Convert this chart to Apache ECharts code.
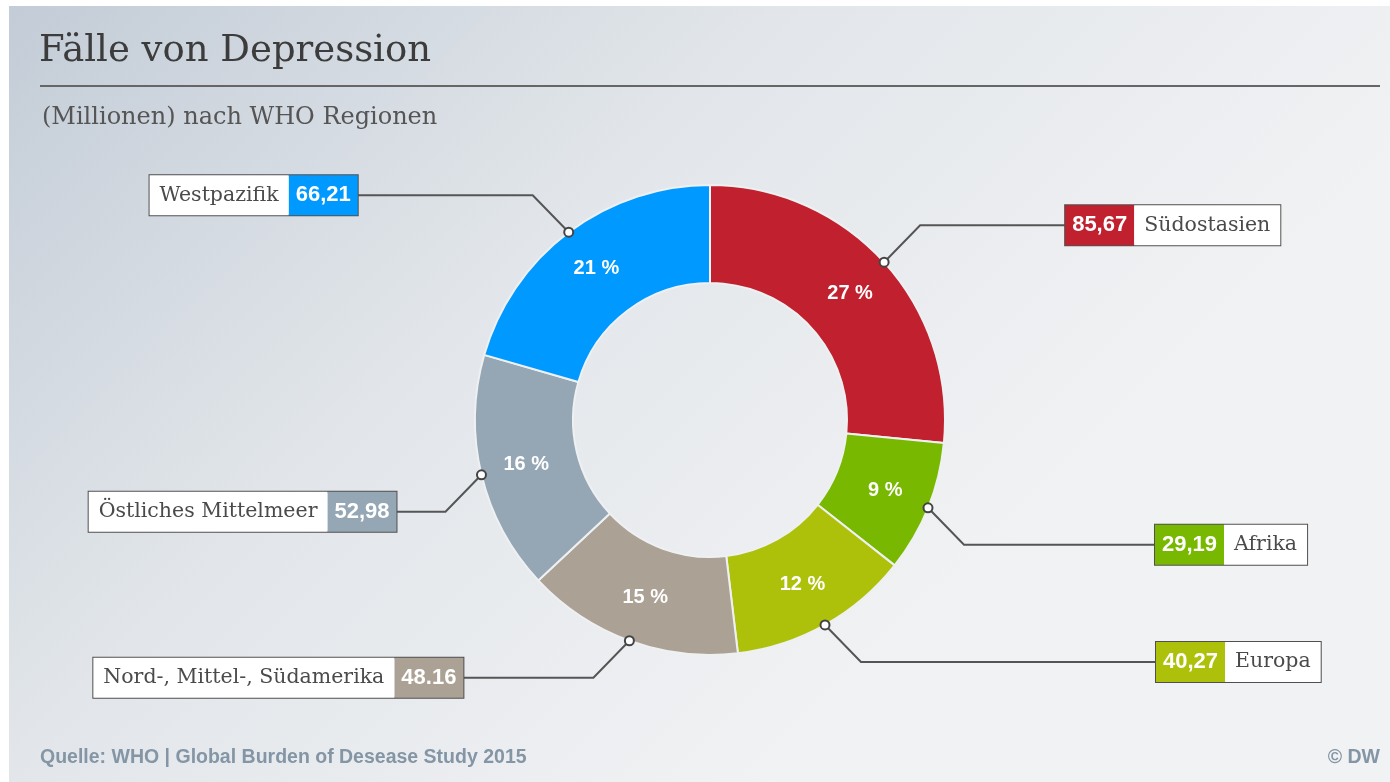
<!DOCTYPE html>
<html><head><meta charset="utf-8">
<script src="https://cdn.jsdelivr.net/npm/echarts@6/dist/echarts.min.js"></script>
<style>html,body{margin:0;padding:0;background:#fff;}#c{width:1390px;height:782px;}</style>
</head><body><div id="c"></div>
<script>
const regions = ['Südostasien', 'Afrika', 'Europa', 'Nord-, Mittel-, Südamerika', 'Östliches Mittelmeer', 'Westpazifik'];
const values = [85.67, 29.19, 40.27, 48.16, 52.98, 66.21];
const valueLabels = ['85,67', '29,19', '40,27', '48.16', '52,98', '66,21'];
const colors = ['#c1202f', '#78b800', '#adc10b', '#aba194', '#95a7b5', '#0099ff'];
const leaderLen = [145, 191, 295, 130, 49, 175];

const total = values.reduce((a, b) => a + b, 0);
const mids = [];
let acc = 0;
values.forEach(v => { mids.push(acc + v / 2); acc += v; });

const rich = {
  n: { backgroundColor: '#fff', color: '#4a4a4a', fontFamily: 'DejaVu Serif', fontSize: 20.5, padding: [0, 10], height: 40, lineHeight: 40 }
};
colors.forEach((c, i) => {
  rich['v' + i] = { backgroundColor: c, color: '#fff', fontFamily: 'Liberation Sans', fontWeight: 'bold', fontSize: 22, padding: [0, 7], height: 40, lineHeight: 40 };
});

const chart = echarts.init(document.getElementById('c'), null, { renderer: 'canvas' });
const option = {
  animation: false,
  graphic: [
    { type: 'rect', z: -10, silent: true, shape: { x: 9, y: 6, width: 1381, height: 776 },
      style: { fill: { type: 'linear', x: 0, y: 0, x2: 0.55, y2: 1, colorStops: [
        { offset: 0, color: '#c3ccd7' }, { offset: 0.5, color: '#e2e6ea' }, { offset: 1, color: '#f1f2f4' }] } } },
    { type: 'text', left: 39, top: 33, style: { text: 'Fälle von Depression', font: '37px "DejaVu Serif"', fill: '#3c3c3c' } },
    { type: 'rect', shape: { x: 40, y: 85, width: 1340, height: 2 }, style: { fill: '#666' } },
    { type: 'text', left: 42, top: 106, style: { text: '(Millionen) nach WHO Regionen', font: '24px "DejaVu Serif"', fill: '#555' } },
    { type: 'text', left: 40, top: 748, style: { text: 'Quelle: WHO | Global Burden of Desease Study 2015', font: 'bold 19.5px "Liberation Sans"', fill: '#8495a5' } },
    { type: 'text', right: 10, top: 748, style: { text: '© DW', font: 'bold 19.5px "Liberation Sans"', fill: '#8495a5' } }
  ],
  polar: { center: [710, 420], radius: 235 },
  angleAxis: { type: 'value', min: 0, max: total, startAngle: 90, clockwise: true, show: false },
  radiusAxis: { type: 'value', min: 0, max: 1, show: false },
  series: [
    {
      type: 'pie', center: [710, 420], radius: [137, 235], startAngle: 90, clockwise: true,
      data: regions.map((r, i) => ({ name: r, value: values[i], itemStyle: { color: colors[i] } })),
      itemStyle: { borderColor: '#eef0f2', borderWidth: 2 },
      label: {
        show: true, position: 'outside', borderColor: '#505050', borderWidth: 2, padding: 0,
        formatter: function (p) {
          const i = p.dataIndex;
          const right = mids[i] < total / 2;
          return right ? '{v' + i + '|' + valueLabels[i] + '}{n|' + regions[i] + '}'
                       : '{n|' + regions[i] + '}{v' + i + '|' + valueLabels[i] + '}';
        },
        rich: rich
      },
      labelLine: { show: true, length: 50, length2: 20, lineStyle: { color: '#555', width: 2 } },
      labelLayout: function (p) {
        const pts = p.labelLinePoints;
        if (!pts) return {};
        const p0 = pts[0];
        const sx = pts[1][0] >= p0[0] ? 1 : -1;
        const sy = pts[1][1] >= p0[1] ? 1 : -1;
        const p1 = [p0[0] + sx * 36, p0[1] + sy * 37];
        const p2 = [p1[0] + sx * leaderLen[p.dataIndex], p1[1]];
        return { x: p2[0], y: p2[1], align: sx > 0 ? 'left' : 'right', verticalAlign: 'middle', labelLinePoints: [p0, p1, p2] };
      }
    },
    {
      type: 'pie', center: [710, 420], radius: [137, 235], startAngle: 90, clockwise: true, silent: true, z: 3,
      data: regions.map((r, i) => ({ name: r, value: values[i] })),
      itemStyle: { color: 'rgba(0,0,0,0)', borderWidth: 0 },
      label: { show: true, position: 'inside', color: '#fff', fontFamily: 'Liberation Sans', fontWeight: 'bold', fontSize: 20,
        formatter: p => Math.round(p.percent) + ' %' },
      labelLine: { show: false }
    },
    {
      type: 'scatter', coordinateSystem: 'polar', z: 10, silent: true,
      data: mids.map(m => [1, m]), symbol: 'circle', symbolSize: 9,
      itemStyle: { color: '#fff', borderColor: '#444', borderWidth: 2, opacity: 1 }
    }
  ]
};
chart.setOption(option);
</script></body></html>
